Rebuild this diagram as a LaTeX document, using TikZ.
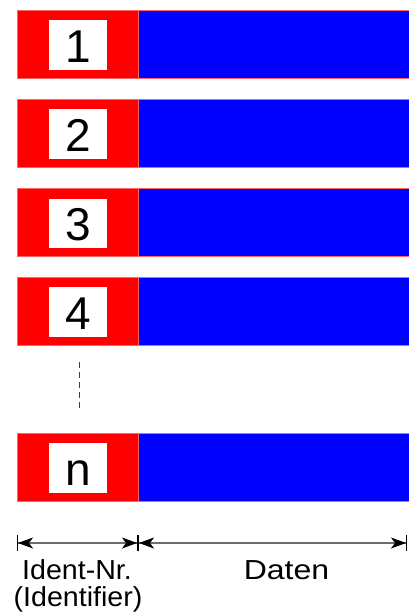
\documentclass[tikz,border=0pt]{standalone}
\usepackage{fontspec}
\setmainfont{Liberation Sans}
\usetikzlibrary{arrows.meta}
\definecolor{pred}{RGB}{255,0,0}
\definecolor{pblue}{RGB}{0,0,255}
\definecolor{pline}{RGB}{255,100,100}
\definecolor{dimgray}{RGB}{110,110,110}
\begin{document}
\begin{tikzpicture}[x=1pt,y=-1pt,
  idfield/.style={fill=pred, draw=pline, line width=0.8pt, inner sep=0pt,
    minimum width=121pt, minimum height=67.5pt, anchor=north west},
  datafield/.style={fill=pblue, draw=pline, line width=0.8pt, inner sep=0pt,
    minimum width=280pt, minimum height=67.5pt, anchor=north west},
  numbox/.style={fill=white, inner sep=0pt, minimum width=58pt, minimum height=49.5pt,
    anchor=north west, text height=35pt, text depth=0pt,
    font=\fontsize{46}{50}\selectfont},
  dots/.style={draw=black!75, line width=0.8pt, dash pattern=on 6.5pt off 3.5pt},
  dim/.style={draw=dimgray, line width=1.1pt,
    {Bar[black,width=16pt,line width=1pt]Stealth[black,length=15pt,width=11pt,inset=4pt]}-{Stealth[black,length=15pt,width=11pt,inset=4pt]Bar[black,width=16pt,line width=1pt]}},
  lab/.style={font=\fontsize{27.5}{30}\selectfont, anchor=base, inner sep=0pt, xscale=1.04}
]
\useasboundingbox (0,0) rectangle (408,616);
\foreach \nm/\t/\txt in {1/10/1, 2/99/2, 3/188.3/3, 4/277/4, n/433/n}{
  \node[idfield] (id\nm) at (17,\t) {};
  \node[datafield] (data\nm) at (138,\t) {};
  \node[numbox] (num\nm) at (49,\t+10) {\txt};
}
\coordinate (dtop) at (79,361.7);
\coordinate (dbot) at (79,410.7);
\draw[dots] (dtop) -- (dbot);
\coordinate (l) at (17,543);
\coordinate (m) at (138,543);
\coordinate (r) at (407,543);
\draw[dim] (l) -- (m);
\draw[dim] (m) -- (r);
\node[lab] (ident) at (77,579.5) {Ident-Nr.};
\node[lab] (identifier) at (78,606) {(Identifier)};
\node[lab, xscale=1.12] (daten) at (286.5,579.5) {Daten};
\end{tikzpicture}
\end{document}
